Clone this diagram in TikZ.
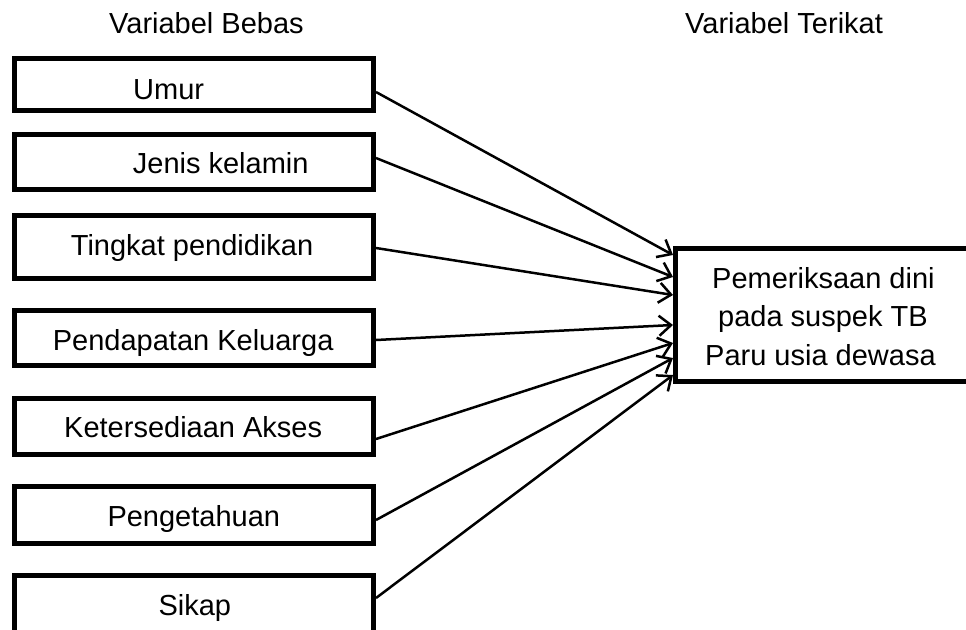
\documentclass[tikz,border=0pt]{standalone}
\usepackage{fontspec}
\setmainfont{Liberation Sans}
\usetikzlibrary{arrows.meta}
\begin{document}
\begin{tikzpicture}[x=1pt,y=-1pt,
  box/.style={draw, line width=5pt, rectangle, inner sep=0pt, minimum width=359pt},
  lbl/.style={anchor=base west, inner sep=0pt, font=\fontsize{29pt}{35pt}\selectfont},
  arr/.style={line width=2.5pt, -{Straight Barb[length=12pt,width=20pt]}}]
\useasboundingbox (0,0) rectangle (966,629);
\clip (0,0) rectangle (966,629);
% left boxes
\node[box, minimum height=52pt] (b1) at (194,84.5) {};
\node[box, minimum height=55pt] (b2) at (194,162) {};
\node[box, minimum height=63pt] (b3) at (194,247) {};
\node[box, minimum height=55pt] (b4) at (194,338) {};
\node[box, minimum height=56pt] (b5) at (194,426.5) {};
\node[box, minimum height=57pt] (b6) at (194,515) {};
\node[box, minimum height=80pt] (b7) at (194,615.5) {};
% target box
\node[box, minimum width=324.5pt, minimum height=133pt] (t) at (837.75,315) {};
% labels
\node[lbl] (l1) at (133,99.3) {Umur};
\node[lbl] (l2) at (132.7,173.3) {Jenis kelamin};
\node[lbl] (l3) at (70.7,255) {Tingkat pendidikan};
\node[lbl] (l4) at (52.7,350) {Pendapatan Keluarga};
\node[lbl] (l5) at (64,437.3) {Ketersediaan Akses};
\node[lbl] (l6) at (107.3,526) {Pengetahuan};
\node[lbl] (l7) at (158.3,615) {Sikap};
\node[lbl] (h1) at (109,33.3) {Variabel Bebas};
\node[lbl] (h2) at (685,33.3) {Variabel Terikat};
\node[lbl] (r1) at (712,288.3) {Pemeriksaan dini};
\node[lbl] (r2) at (718,326) {pada suspek TB};
\node[lbl] (r3) at (705,365) {Paru usia dewasa};
% connectors
\draw[arr] ([yshift=-7.5pt]b1.east) -- ([yshift=60pt]t.west);
\draw[arr] ([yshift=4pt]b2.east) -- ([yshift=38pt]t.west);
\draw[arr] ([yshift=-1pt]b3.east) -- ([yshift=20pt]t.west);
\draw[arr] ([yshift=-2pt]b4.east) -- ([yshift=-10pt]t.west);
\draw[arr] ([yshift=-12.5pt]b5.east) -- ([yshift=-28pt]t.west);
\draw[arr] ([yshift=-5pt]b6.east) -- ([yshift=-43pt]t.west);
\draw[arr] ([yshift=17.5pt]b7.east) -- ([yshift=-60pt]t.west);
\end{tikzpicture}
\end{document}
